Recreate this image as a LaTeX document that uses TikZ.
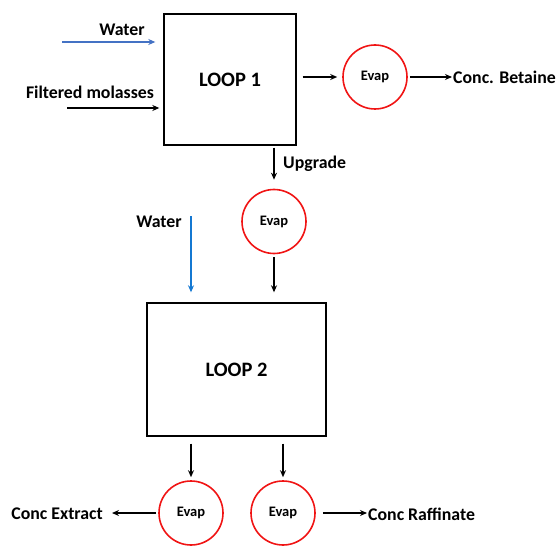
\documentclass[tikz,border=0pt]{standalone}
\usepackage{fontspec}
\setmainfont{Carlito}
\usetikzlibrary{arrows.meta}
\definecolor{waterblue}{RGB}{68,114,196}
\definecolor{waterlight}{RGB}{20,120,210}
\definecolor{evapred}{RGB}{240,20,20}
\begin{document}
\begin{tikzpicture}[x=1pt, y=-1pt,
    loopbox/.style={draw, line width=1.4pt, inner sep=0pt, font=\bfseries\fontsize{20.5}{24}\selectfont},
    evap/.style={circle, draw=evapred, line width=1.6pt, minimum size=64pt, inner sep=0pt, font=\bfseries\fontsize{14.5}{16}\selectfont},
    flow/.style={line width=1.3pt, -{Stealth[length=7pt, width=6pt]}},
    lbl/.style={inner sep=0pt, font=\bfseries\fontsize{17.8}{20}\selectfont}]
    \useasboundingbox (0,0) rectangle (559,548);

    % loops
    \node[loopbox, minimum width=132pt, minimum height=131pt] (loop1) at (230,79.5) {LOOP 1};
    \node[loopbox, minimum width=179pt, minimum height=133pt] (loop2) at (236.5,369.5) {LOOP 2};

    % evaporators
    \foreach \n/\x/\y in {e1/375/77, e2/274/221.5, e3/191/513, e4/283/513}
        \node[evap] (\n) at (\x,\y) {Evap};

    % labels
    \node[lbl] (water1) at (122,30) {Water};
    \node[lbl] (molasses) at (90,92) {Filtered molasses};
    \node[lbl, anchor=west] (betaine) at (453,77) {Conc. Betaine};
    \node[lbl, anchor=west] (upgrade) at (283,164) {Upgrade};
    \node[lbl] (water2) at (159,222) {Water};
    \node[lbl, anchor=east] (extract) at (103,514) {Conc Extract};
    \node[lbl, anchor=west] (raffinate) at (368,514) {Conc Raffinate};

    % free ends
    \coordinate (w1) at (62,42);
    \coordinate (m1) at (67,108);
    \coordinate (w2) at (191,216);

    % feeds
    \draw[flow, draw=waterblue, shorten >=8pt] (w1) -- (w1 -| loop1.west);
    \draw[flow, shorten >=4pt] (m1) -- (m1 -| loop1.west);
    \draw[flow, draw=waterlight, shorten >=10pt] (w2) -- (w2 |- loop2.north);

    % streams
    \draw[flow, shorten <=6pt, shorten >=5pt] (e1 -| loop1.east) -- (e1);
    \draw[flow, shorten <=2pt, shorten >=1pt] (e1) -- (e1 -| betaine.west);
    \draw[flow, shorten <=2pt, shorten >=9pt] (e2 |- loop1.south) -- (e2);
    \draw[flow, shorten <=3pt, shorten >=10pt] (e2) -- (e2 |- loop2.north);
    \draw[flow, shorten <=7pt, shorten >=3pt] (e3 |- loop2.south) -- (e3);
    \draw[flow, shorten <=7pt, shorten >=3pt] (e4 |- loop2.south) -- (e4);
    \draw[flow, shorten <=2pt, shorten >=9pt] (e3) -- (e3 -| extract.east);
    \draw[flow, shorten <=7pt, shorten >=1pt] (e4) -- (e4 -| raffinate.west);
\end{tikzpicture}
\end{document}
